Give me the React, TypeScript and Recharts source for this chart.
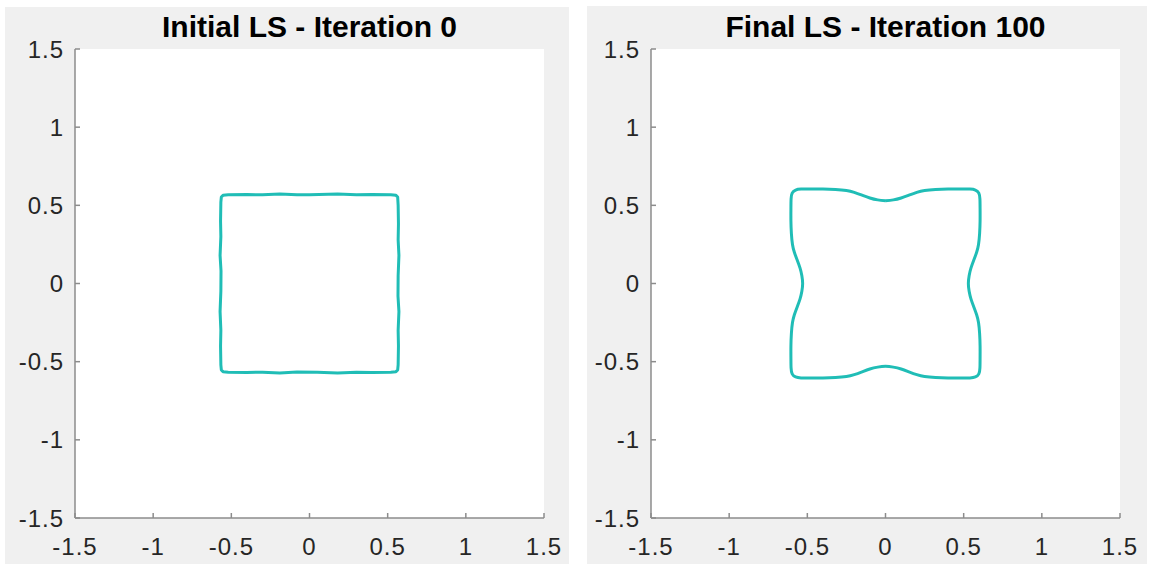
import { CartesianGrid, Line, LineChart, XAxis, YAxis } from "recharts";

// axis ticks shared by both panels
const axisTicks = [-1.5, -1, -0.5, 0, 0.5, 1, 1.5];

// zero level set at iteration 0 (x, y), traced clockwise from the top
const initialContour: [number, number][] = [
  [0, 0.568], [0.18, 0.572], [0.3, 0.567], [0.4, 0.569], [0.52, 0.567],
  [0.553, 0.564], [0.564, 0.553],
  [0.567, 0.5], [0.569, 0.38], [0.567, 0.28], [0.572, 0.18], [0.567, 0.05],
  [0.566, -0.08], [0.572, -0.18], [0.567, -0.3], [0.569, -0.4], [0.567, -0.52],
  [0.564, -0.553], [0.553, -0.564],
  [0.52, -0.567], [0.4, -0.569], [0.3, -0.567], [0.18, -0.572], [0.05, -0.567],
  [-0.08, -0.566], [-0.19, -0.572], [-0.3, -0.567], [-0.4, -0.569], [-0.52, -0.567],
  [-0.553, -0.564], [-0.564, -0.553],
  [-0.567, -0.52], [-0.569, -0.4], [-0.567, -0.3], [-0.572, -0.18], [-0.567, -0.05],
  [-0.566, 0.08], [-0.572, 0.18], [-0.567, 0.3], [-0.569, 0.4], [-0.567, 0.52],
  [-0.564, 0.553], [-0.553, 0.564],
  [-0.52, 0.567], [-0.4, 0.569], [-0.3, 0.567], [-0.19, 0.572], [-0.08, 0.567],
  [0, 0.568],
];

// zero level set at iteration 100
const finalContour: [number, number][] = [
  [0, 0.53], [0.05, 0.535], [0.1, 0.547], [0.15, 0.565], [0.2, 0.583],
  [0.25, 0.595], [0.32, 0.602], [0.4, 0.605], [0.48, 0.605], [0.54, 0.604],
  [0.575, 0.598], [0.597, 0.578], [0.604, 0.54],
  [0.605, 0.48], [0.605, 0.4], [0.602, 0.32], [0.595, 0.25], [0.583, 0.2],
  [0.565, 0.15], [0.547, 0.1], [0.535, 0.05], [0.53, 0], [0.535, -0.05],
  [0.547, -0.1], [0.565, -0.15], [0.583, -0.2], [0.595, -0.25], [0.602, -0.32],
  [0.605, -0.4], [0.605, -0.48], [0.604, -0.54],
  [0.597, -0.578], [0.575, -0.598], [0.54, -0.604],
  [0.48, -0.605], [0.4, -0.605], [0.32, -0.602], [0.25, -0.595], [0.2, -0.583],
  [0.15, -0.565], [0.1, -0.547], [0.05, -0.535], [0, -0.53], [-0.05, -0.535],
  [-0.1, -0.547], [-0.15, -0.565], [-0.2, -0.583], [-0.25, -0.595], [-0.32, -0.602],
  [-0.4, -0.605], [-0.48, -0.605], [-0.54, -0.604],
  [-0.575, -0.598], [-0.597, -0.578], [-0.604, -0.54],
  [-0.605, -0.48], [-0.605, -0.4], [-0.602, -0.32], [-0.595, -0.25], [-0.583, -0.2],
  [-0.565, -0.15], [-0.547, -0.1], [-0.535, -0.05], [-0.53, 0], [-0.535, 0.05],
  [-0.547, 0.1], [-0.565, 0.15], [-0.583, 0.2], [-0.595, 0.25], [-0.602, 0.32],
  [-0.605, 0.4], [-0.605, 0.48], [-0.604, 0.54],
  [-0.597, 0.578], [-0.575, 0.598], [-0.54, 0.604],
  [-0.48, 0.605], [-0.4, 0.605], [-0.32, 0.602], [-0.25, 0.595], [-0.2, 0.583],
  [-0.15, 0.565], [-0.1, 0.547], [-0.05, 0.535], [0, 0.53],
];

const FONT = '"Liberation Sans", Arial, sans-serif';
const AXIS = "#8c8c8c";
const TEXT = "#262626";
const CURVE = "#20bdb6";

function LevelSetPlot({
  title,
  contour,
  curve,
  left,
}: {
  title: string;
  contour: [number, number][];
  curve: "linear" | "natural";
  left: number;
}) {
  const data = contour.map(([x, y]) => ({ x, y }));
  const tick = { fill: TEXT, fontSize: 24, fontFamily: FONT, letterSpacing: 1 };
  return (
    <div style={{ position: "absolute", left, top: 0, width: 575, height: 564 }}>
      <div
        style={{
          position: "absolute",
          left: 75,
          top: 12,
          width: 469,
          textAlign: "center",
          fontFamily: FONT,
          fontWeight: "bold",
          fontSize: 30,
          lineHeight: 1,
          color: "#000",
        }}
      >
        {title}
      </div>
      <LineChart width={575} height={564} data={data} margin={{ top: 49, right: 31, bottom: 6, left: 15 }}>
        <CartesianGrid horizontal={false} vertical={false} fill="#ffffff" />
        <XAxis
          xAxisId="b"
          type="number"
          dataKey="x"
          domain={[-1.5, 1.5]}
          ticks={axisTicks}
          allowDataOverflow
          height={40}
          stroke={AXIS}
          strokeWidth={1.5}
          tickSize={-5}
          tickMargin={25}
          tick={tick}
          tickFormatter={(v) => String(v)}
        />
        <XAxis
          xAxisId="t"
          orientation="top"
          type="number"
          dataKey="x"
          domain={[-1.5, 1.5]}
          ticks={axisTicks}
          allowDataOverflow
          height={0}
          stroke={AXIS}
          strokeWidth={1.5}
          tickSize={-5}
          tick={false}
        />
        <YAxis
          yAxisId="l"
          type="number"
          domain={[-1.5, 1.5]}
          ticks={axisTicks}
          allowDataOverflow
          width={60}
          stroke={AXIS}
          strokeWidth={1.5}
          tickSize={-5}
          tickMargin={16}
          tick={tick}
          tickFormatter={(v) => String(v)}
        />
        <YAxis
          yAxisId="r"
          orientation="right"
          type="number"
          domain={[-1.5, 1.5]}
          ticks={axisTicks}
          allowDataOverflow
          width={0}
          stroke={AXIS}
          strokeWidth={1.5}
          tickSize={-5}
          tick={false}
        />
        <Line
          xAxisId="b"
          yAxisId="l"
          type={curve}
          dataKey="y"
          stroke={CURVE}
          strokeWidth={3}
          strokeLinejoin="round"
          dot={false}
          activeDot={false}
          isAnimationActive={false}
        />
      </LineChart>
    </div>
  );
}

export default function App() {
  return (
    <div style={{ position: "absolute", left: 0, top: 0, width: 1149, height: 564, background: "#ffffff", overflow: "hidden" }}>
      <div style={{ position: "absolute", left: 5, top: 7, width: 564, height: 557, background: "#f0f0f0" }} />
      <div style={{ position: "absolute", left: 587, top: 6, width: 560, height: 558, background: "#f0f0f0" }} />
      <LevelSetPlot title="Initial LS - Iteration 0" contour={initialContour} curve="linear" left={0} />
      <LevelSetPlot title="Final LS - Iteration 100" contour={finalContour} curve="natural" left={576} />
    </div>
  );
}
